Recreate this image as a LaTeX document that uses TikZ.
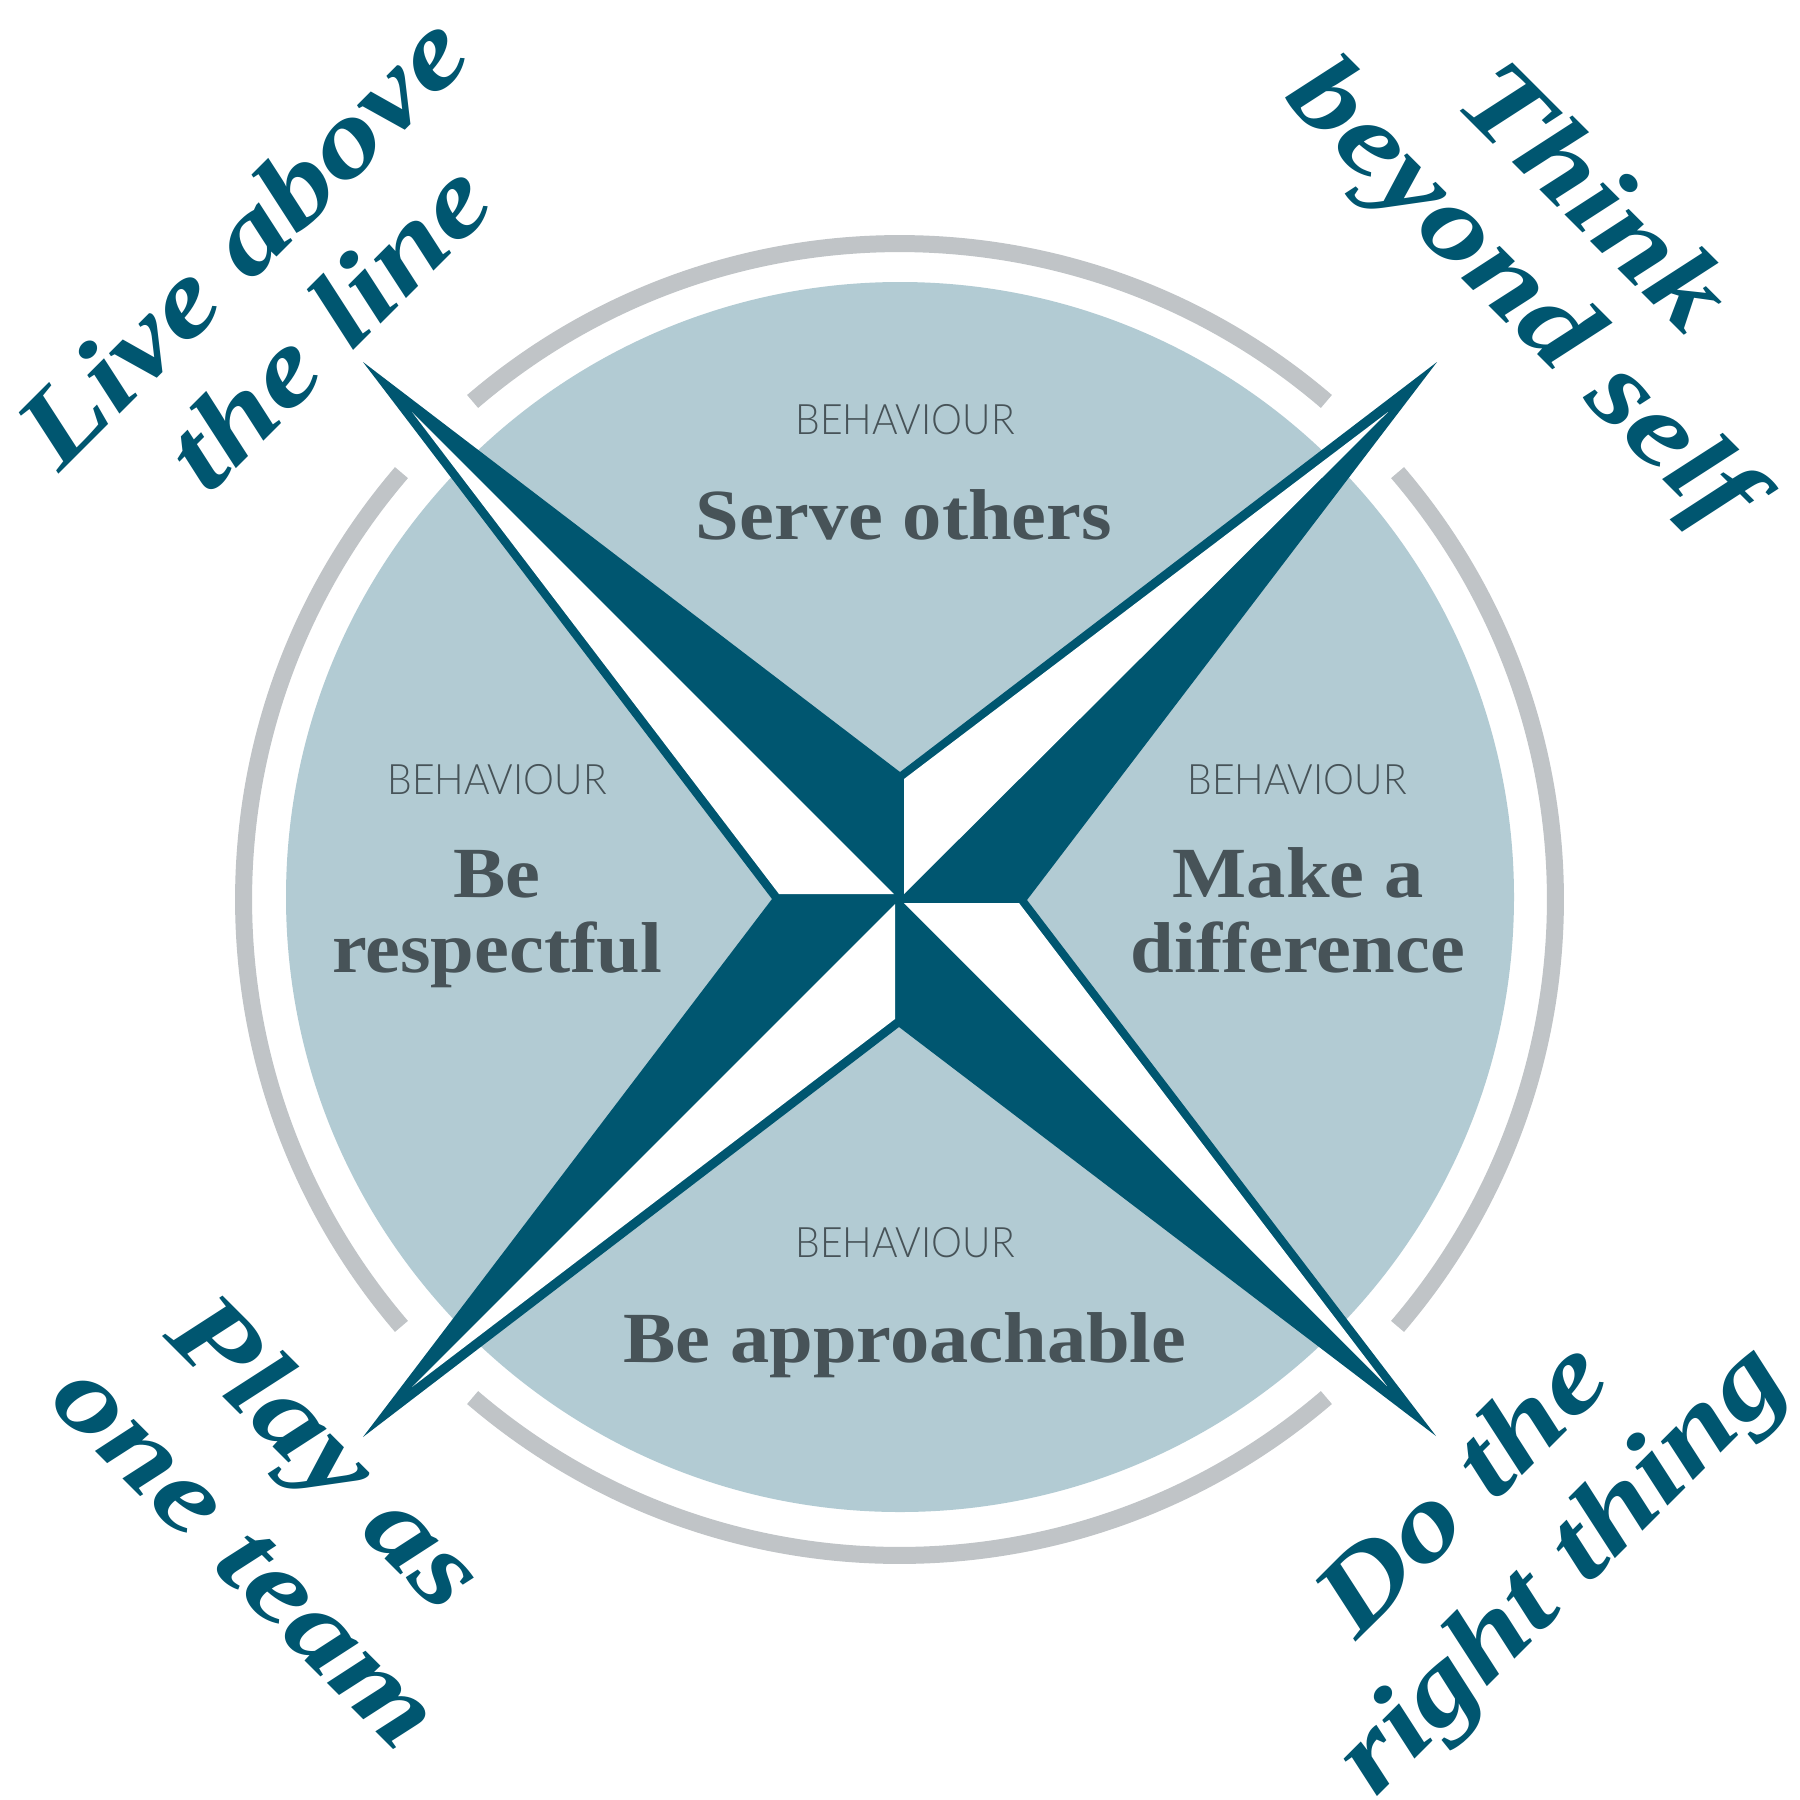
\documentclass[tikz,border=0pt]{standalone}
\usepackage{fontspec}
\setmainfont{DejaVu Serif}
\newfontfamily\lightf[FakeStretch=0.93]{Lato Light}
\newfontfamily\mainf[FakeStretch=1.09]{Liberation Serif}
\newfontfamily\cornerf[FakeStretch=1.22]{Liberation Serif}
\definecolor{navy}{HTML}{005670}
\definecolor{pale}{HTML}{B2CBD3}
\definecolor{ringgrey}{HTML}{C0C4C7}
\definecolor{slate}{HTML}{475358}
\tikzset{
  x=1pt,y=-1pt,
  ringarc/.style={draw=ringgrey,line width=17pt,line cap=butt},
  kicker/.style={text=slate,font=\lightf\fontsize{42}{42}\selectfont,anchor=center,inner sep=0},
  title/.style={text=slate,font=\mainf\bfseries\fontsize{72}{72}\selectfont,anchor=base,inner sep=0},
  corner/.style={text=navy,font=\cornerf\bfseries\itshape\fontsize{109}{109}\selectfont,anchor=center,inner sep=0},
}
\begin{document}
\begin{tikzpicture}
\useasboundingbox (0,0) rectangle (1800,1800);
\fill[white] (0,0) rectangle (1800,1800);
\fill[pale] (900,897) ellipse [x radius=614,y radius=615];
\draw[ringarc] ({899.5+656*cos(49.4)},{899.5-656*sin(49.4)}) arc [start angle=-49.4,end angle=-130.6,radius=656];
\draw[ringarc] ({899.5-656*cos(40.6)},{899.5-656*sin(40.6)}) arc [start angle=-139.4,end angle=-220.6,radius=656];
\draw[ringarc] ({899.5-656*cos(49.4)},{899.5+656*sin(49.4)}) arc [start angle=-229.4,end angle=-310.6,radius=656];
\draw[ringarc] ({899.5+656*cos(40.6)},{899.5+656*sin(40.6)}) arc [start angle=-319.4,end angle=-400.6,radius=656];
\fill[navy] (363,362) -- (900,772) -- (1437,362) -- (1027,900) -- (1436,1436) -- (899,1027) -- (363,1437) -- (772,899) -- cycle;
\fill[white] (412,412) -- (894,894) -- (779,894) -- cycle;
\fill[white] (1388,412) -- (904,894) -- (904,779) -- cycle;
\fill[white] (1387,1386) -- (904,903) -- (1019,903) -- cycle;
\fill[white] (412,1387) -- (895,904) -- (895,1019) -- cycle;
\node[kicker] (k1) at (905,420) {BEHAVIOUR};
\node[kicker] (k2) at (497,780) {BEHAVIOUR};
\node[kicker] (k3) at (1297,780) {BEHAVIOUR};
\node[kicker] (k4) at (905,1243) {BEHAVIOUR};
\node[title] (t1) at (904,539) {Serve others};
\node[title] (t2a) at (497,897) {Be};
\node[title] (t2b) at (497,972) {respectful};
\node[title] (t3a) at (1298,897) {Make a};
\node[title] (t3b) at (1298,972) {difference};
\node[title] (t4) at (905,1362) {Be approachable};
\node[corner,rotate=45] (c1a) at (241,240) {Live above};
\node[corner,rotate=45] (c1b) at (327,325) {the line};
\node[corner,rotate=-45] (c2a) at (1597,194) {Think};
\node[corner,rotate=-45] (c2b) at (1519,298) {beyond self};
\node[corner,rotate=-45] (c3a) at (321,1458) {Play as};
\node[corner,rotate=-45] (c3b) at (244,1557) {one team};
\node[corner,rotate=45] (c4a) at (1459,1486) {Do the};
\node[corner,rotate=45] (c4b) at (1565,1572) {right thing};
\end{tikzpicture}
\end{document}
